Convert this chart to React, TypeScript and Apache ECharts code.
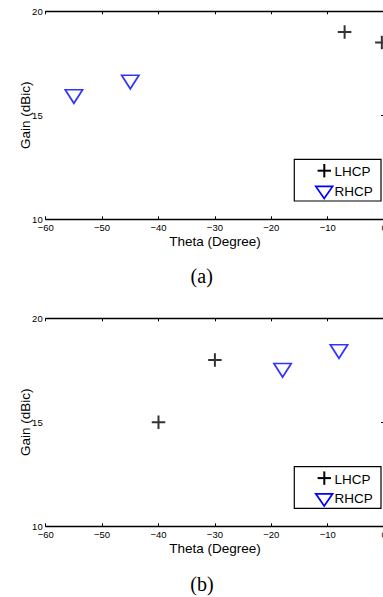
import React, { useEffect, useRef } from "react";
import * as echarts from "echarts";

// ---- data ----
const thetaTicks = [-60, -50, -40, -30, -20, -10, 0];
const gainTicks = [10, 15, 20];
const seriesNames = ["LHCP", "RHCP"];
const captions = ["(a)", "(b)"];

// plot (a)
const lhcpA_theta = [-7, -0.4];
const lhcpA_gain = [19.0, 18.5];
const rhcpA_theta = [-55, -45];
const rhcpA_gain = [15.9, 16.6];

// plot (b)
const lhcpB_theta = [-40, -30];
const lhcpB_gain = [15.0, 18.0];
const rhcpB_theta = [-18, -8];
const rhcpB_gain = [17.5, 18.4];

const zip = (xs: number[], ys: number[]) => xs.map((x, i) => [x, ys[i]]);

const SANS = "'Liberation Sans', Arial, Helvetica, sans-serif";
const SERIF = "'Liberation Serif', 'Times New Roman', serif";
const BLUE = "#0000ff";
const CROSS = "path://M7,0 L7,14 M0,7 L14,7";
const TRI = "path://M0,0 L18,0 L9,14 Z";

const GRID_LEFT = 45.7;
const GRID_W = 338.4;
const GRID_H = 208;
const GRID_TOPS = [11.3, 318.3];

const minus = (v: number) => String(v).replace("-", "\u2212");

function App() {
  const ref = useRef<HTMLDivElement>(null);
  useEffect(() => {
    if (!ref.current) return;
    const chart = echarts.init(ref.current, undefined, { renderer: "svg" });
    const xMin = thetaTicks[0];
    const xMax = thetaTicks[thetaTicks.length - 1];
    const yMin = gainTicks[0];
    const yMax = gainTicks[gainTicks.length - 1];
    const axisLine = { show: true, lineStyle: { color: "#000", width: 1.3 } };
    const tick = { show: true, inside: true, length: 3, lineStyle: { color: "#000", width: 1 } };

    const grids: any[] = [];
    const xAxes: any[] = [];
    const yAxes: any[] = [];
    GRID_TOPS.forEach((top, g) => {
      grids.push({
        left: GRID_LEFT, top, width: GRID_W, height: GRID_H,
        containLabel: false, outerBoundsMode: "none",
      });
      xAxes.push({
        type: "value", gridIndex: g, min: xMin, max: xMax, interval: 10,
        axisLine, axisTick: tick, splitLine: { show: false },
        axisLabel: { margin: 4.5, fontSize: 9.5, lineHeight: 8, color: "#000", fontFamily: SANS, formatter: minus, hideOverlap: false },
        name: "Theta (Degree)", nameLocation: "middle", nameGap: 15, nameMoveOverlap: false,
        nameTextStyle: { fontSize: 13.5, color: "#000", fontFamily: SANS },
      });
      xAxes.push({
        type: "value", gridIndex: g, position: "top", min: xMin, max: xMax, interval: 10,
        axisLine, axisTick: tick, splitLine: { show: false }, axisLabel: { show: false },
      });
      yAxes.push({
        type: "value", gridIndex: g, min: yMin, max: yMax, interval: 5,
        axisLine, axisTick: tick, splitLine: { show: false },
        axisLabel: { margin: 3, fontSize: 9.5, lineHeight: 8, color: "#000", fontFamily: SANS, hideOverlap: false },
        name: "Gain (dBic)", nameLocation: "middle", nameGap: 13, nameMoveOverlap: false,
        nameTextStyle: { fontSize: 13.5, color: "#000", fontFamily: SANS },
      });
      yAxes.push({
        type: "value", gridIndex: g, position: "right", min: yMin, max: yMax, interval: 5,
        axisLine, axisTick: tick, splitLine: { show: false }, axisLabel: { show: false },
      });
    });

    const crossSeries = (data: number[][], g: number) => ({
      type: "scatter", name: seriesNames[0], xAxisIndex: g * 2, yAxisIndex: g * 2,
      data, symbol: CROSS, symbolSize: 13.5,
      itemStyle: { color: "rgba(0,0,0,0)", borderColor: "#000", borderWidth: 2 },
    });
    const triSeries = (data: number[][], g: number) => ({
      type: "scatter", name: seriesNames[1], xAxisIndex: g * 2, yAxisIndex: g * 2,
      data, symbol: TRI, symbolSize: [17.3, 13.5],
      itemStyle: { color: "rgba(0,0,0,0)", borderColor: BLUE, borderWidth: 1.7 },
    });

    const legendGraphic = (dy: number) => ({
      type: "group",
      children: [
        { type: "rect", shape: { x: 294.3, y: 159.3 + dy, width: 86.7, height: 41.7 },
          style: { fill: "#fff", stroke: "#000", lineWidth: 1.2 } },
        { type: "line", shape: { x1: 317.6, y1: 170.7 + dy, x2: 331, y2: 170.7 + dy },
          style: { stroke: "#000", lineWidth: 2 } },
        { type: "line", shape: { x1: 324.3, y1: 164 + dy, x2: 324.3, y2: 177.4 + dy },
          style: { stroke: "#000", lineWidth: 2 } },
        { type: "polygon", shape: { points: [[315.8, 186.4 + dy], [332.6, 186.4 + dy], [324.2, 198.6 + dy]] },
          style: { fill: "none", stroke: BLUE, lineWidth: 1.7 } },
        { type: "text", x: 334.6, y: 171.7 + dy,
          style: { text: seriesNames[0], fontSize: 13.5, fontFamily: SANS, fill: "#000", verticalAlign: "middle" } },
        { type: "text", x: 334.6, y: 191 + dy,
          style: { text: seriesNames[1], fontSize: 13.5, fontFamily: SANS, fill: "#000", verticalAlign: "middle" } },
      ],
    });

    chart.setOption({
      animation: false,
      backgroundColor: "#fff",
      grid: grids,
      xAxis: xAxes,
      yAxis: yAxes,
      series: [
        crossSeries(zip(lhcpA_theta, lhcpA_gain), 0),
        triSeries(zip(rhcpA_theta, rhcpA_gain), 0),
        crossSeries(zip(lhcpB_theta, lhcpB_gain), 1),
        triSeries(zip(rhcpB_theta, rhcpB_gain), 1),
      ],
      graphic: [
        legendGraphic(0),
        legendGraphic(307.4),
        { type: "text", x: 201.7, y: 276.3,
          style: { text: captions[0], fontSize: 20, fontFamily: SERIF, fill: "#000", align: "center", verticalAlign: "middle" } },
        { type: "text", x: 202, y: 583.8,
          style: { text: captions[1], fontSize: 20, fontFamily: SERIF, fill: "#000", align: "center", verticalAlign: "middle" } },
      ],
    });
    return () => chart.dispose();
  }, []);
  return (
    <div
      ref={ref}
      style={{ position: "absolute", left: 0, top: 0, width: 383, height: 597, background: "#fff" }}
    />
  );
}

export default App;
